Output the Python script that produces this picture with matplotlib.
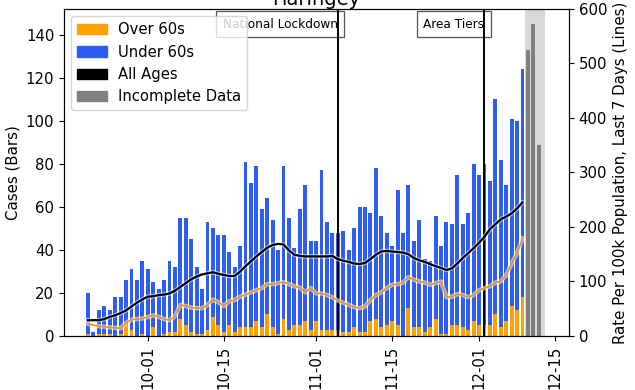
import numpy as np
import pandas as pd
import matplotlib
matplotlib.use("Agg")
import matplotlib.pyplot as plt
import matplotlib.dates as mdates
import matplotlib.patches as mpatches
import matplotlib.patheffects as pe

# ---------------- data ----------------
start_date = "2020-09-20"
end_complete = "2020-12-09"
incomplete_start = "2020-12-10"
incomplete_end = "2020-12-12"

total_cases = [20, 2, 12, 14, 12, 18, 18, 26, 31, 26,
               35, 31, 25, 22, 26, 35, 32, 55, 55, 45,
               32, 22, 53, 50, 47, 47, 39, 32, 42, 81,
               71, 79, 59, 64, 54, 40, 79, 55, 41, 59,
               70, 44, 44, 77, 53, 48, 48, 49, 40, 50,
               60, 60, 57, 78, 56, 48, 42, 68, 48, 70,
               44, 54, 36, 35, 56, 42, 53, 52, 75, 52,
               57, 80, 75, 80, 72, 110, 82, 70, 101, 100,
               124]
over60_cases = [1, 0, 1, 1, 1, 0, 1, 5, 3, 0,
                1, 0, 4, 0, 1, 2, 2, 8, 5, 2,
                1, 1, 3, 9, 5, 2, 5, 2, 4, 4,
                4, 7, 4, 10, 4, 1, 8, 3, 5, 5,
                7, 3, 7, 3, 3, 3, 3, 2, 2, 4,
                2, 2, 7, 8, 4, 5, 7, 5, 0, 13,
                4, 4, 2, 4, 8, 1, 1, 5, 5, 4,
                3, 7, 5, 5, 5, 10, 4, 7, 14, 12,
                18]
under60_cases = [t - o for t, o in zip(total_cases, over60_cases)]
incomplete_cases = [133, 145, 89]

rate_all_ages = [29, 29, 29, 31, 35, 38, 42, 47, 54, 61,
                 67, 72, 73, 75, 76, 78, 83, 90, 97, 104,
                 109, 113, 115, 117, 114, 112, 110, 110, 118, 128,
                 137, 146, 154, 162, 167, 169, 168, 157, 149, 147,
                 146, 146, 146, 146, 146, 147, 141, 138, 136, 133,
                 132, 134, 141, 149, 155, 156, 155, 154, 153, 150,
                 143, 139, 136, 132, 128, 125, 121, 124, 133, 143,
                 152, 161, 171, 182, 196, 205, 214, 219, 225, 234,
                 245]
rate_over60 = [22, 20, 18, 17, 16, 15, 14, 24, 30, 31,
               32, 35, 38, 35, 31, 29, 36, 57, 55, 52,
               51, 51, 57, 67, 62, 55, 64, 66, 72, 76,
               80, 84, 88, 95, 95, 97, 99, 95, 91, 89,
               80, 88, 78, 78, 75, 71, 65, 61, 57, 53,
               51, 54, 66, 75, 80, 88, 94, 95, 98, 108,
               103, 100, 98, 94, 97, 100, 71, 72, 77, 75,
               71, 75, 84, 88, 91, 98, 100, 112, 133, 152,
               179]

event_labels = ["National Lockdown", "Area Tiers"]
event_dates = ["2020-11-05", "2020-12-02"]

title = "Haringey"

# ---------------- plot ----------------
dates = pd.date_range(start_date, end_complete, freq="D")
inc_dates = pd.date_range(incomplete_start, incomplete_end, freq="D")

c_orange = "#FFA000"
c_blue = "#2D5DF2"
c_gray = "#808080"

fig = plt.figure(figsize=(6.35, 3.9), dpi=100)
ax = fig.add_axes([0.1008, 0.1385, 0.7953, 0.8385])
ax2 = ax.twinx()

w = 0.72
ax.bar(dates, over60_cases, width=w, color=c_orange, zorder=2)
ax.bar(dates, under60_cases, width=w, bottom=over60_cases, color=c_blue, zorder=2)
ax.bar(inc_dates, incomplete_cases, width=w, color=c_gray, zorder=2)

span_start = pd.Timestamp(end_complete) + pd.Timedelta(hours=10)
span_end = pd.Timestamp(incomplete_end) + pd.Timedelta(hours=27)
ax.axvspan(span_start, span_end, color="#d9d9d9", zorder=1, lw=0)

for lab, d in zip(event_labels, event_dates):
    ax.axvline(pd.Timestamp(d), color="black", lw=1.4, zorder=5)
    ax.text(pd.Timestamp(d), 0.953, lab, transform=ax.get_xaxis_transform(),
            ha="right", va="center", fontsize=8.7, zorder=4,
            bbox=dict(facecolor="white", edgecolor="#555555", pad=4.6, lw=0.9))

halo = [pe.Stroke(linewidth=3.2, foreground="white", alpha=0.55), pe.Normal()]
ax2.plot(dates, rate_over60, color="#F39419", lw=1.3, path_effects=halo, zorder=3)
ax2.plot(dates, rate_all_ages, color="black", lw=1.6, path_effects=halo, zorder=3)

ax.set_ylim(0, 152)
ax2.set_ylim(0, 600)
x0 = pd.Timestamp(start_date) - pd.Timedelta(days=4.42)
x1 = pd.Timestamp(start_date) + pd.Timedelta(days=88.57)
ax.set_xlim(x0, x1)

ax.xaxis.set_major_locator(mdates.DayLocator(bymonthday=[1, 15]))
ax.xaxis.set_major_formatter(mdates.DateFormatter("%m-%d"))
for lbl in ax.get_xticklabels():
    lbl.set_rotation(90)

ax.set_yticks([0, 20, 40, 60, 80, 100, 120, 140])
ax2.set_yticks([0, 100, 200, 300, 400, 500, 600])
ax.tick_params(labelsize=10.7)
ax2.tick_params(labelsize=10.7)
ax.set_ylabel("Cases (Bars)", fontsize=10.8)
ax2.set_ylabel("Rate Per 100k Population, Last 7 Days (Lines)", fontsize=10.8)
ax.set_title(title, fontsize=14, pad=0)

handles = [mpatches.Patch(color=c_orange, label="Over 60s"),
           mpatches.Patch(color=c_blue, label="Under 60s"),
           mpatches.Patch(color="black", label="All Ages"),
           mpatches.Patch(color=c_gray, label="Incomplete Data")]
ax2.legend(handles=handles, loc="upper left", fontsize=10.6)

fig.savefig("out.png", dpi=100)
